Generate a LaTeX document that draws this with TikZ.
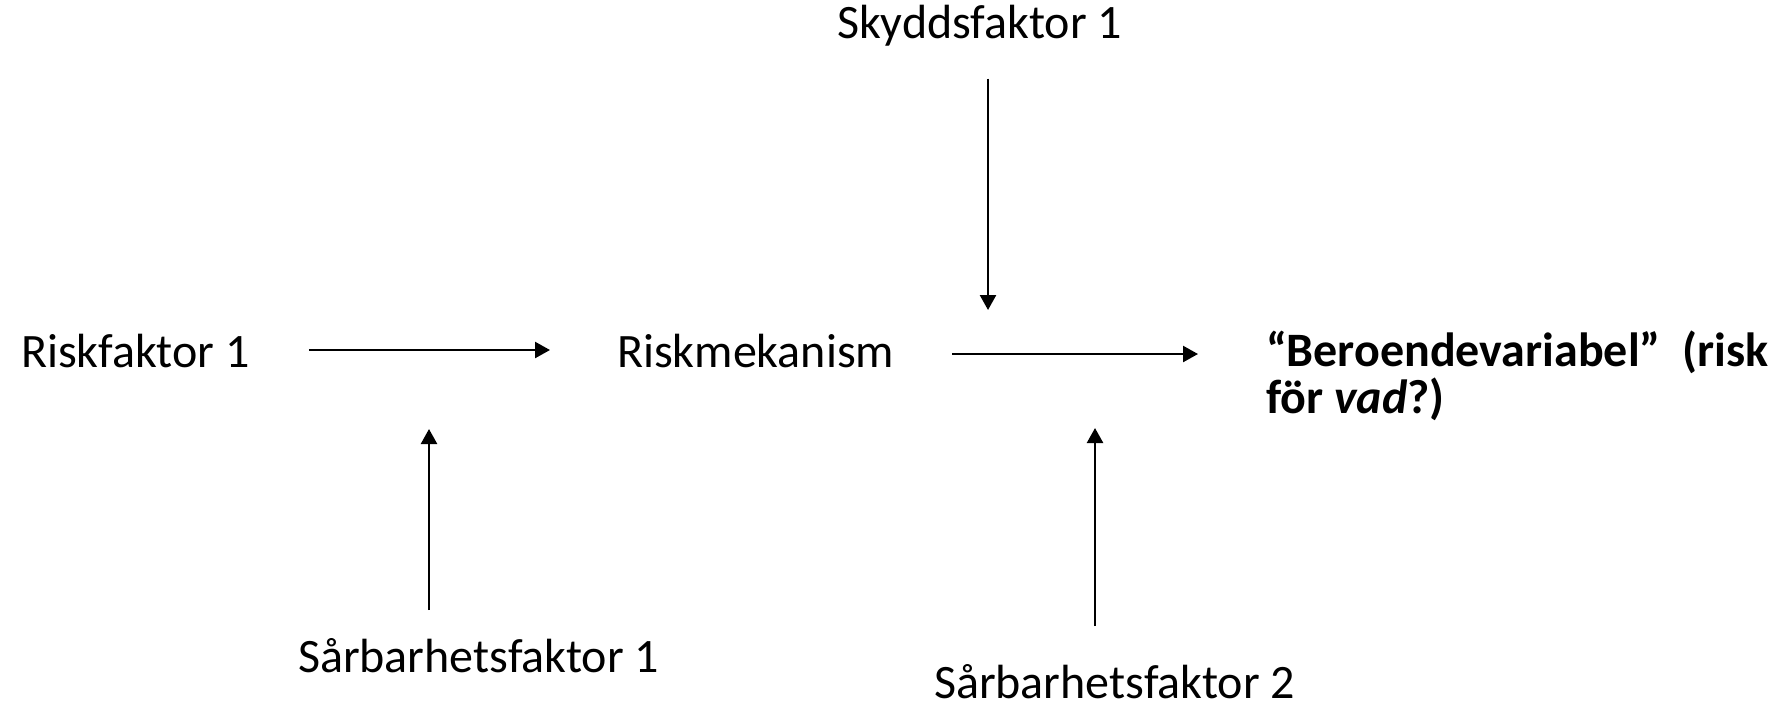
\documentclass[tikz,border=0pt]{standalone}
\usepackage{fontspec}
\setmainfont{Carlito}
\usetikzlibrary{arrows.meta}
\begin{document}
\begin{tikzpicture}[x=0.5pt, y=-0.5pt, font=\fontsize{24}{29}\selectfont,
  every node/.style={inner sep=0pt, outer sep=0pt, anchor=base west},
  arr/.style={-{Triangle[length=7.5pt, width=8pt]}, line width=1.2pt}]
        \useasboundingbox (0,0) rectangle (1781,708);
        % Labels
        \node (skydd) at (837, 38) {Skyddsfaktor 1};
        \node (risk1) at (21, 367) {Riskfaktor 1};
        \node (mech) at (617, 367) {Riskmekanism};
        \node (dep) at (1266, 366) {\fontsize{24}{19}\selectfont\bfseries
          \begin{tabular}[t]{@{}l@{}}“Beroendevariabel”\ \ (risk\\ för \textit{vad}?)\end{tabular}};
        \node (sarb1) at (298, 672) {Sårbarhetsfaktor 1};
        \node (sarb2) at (934, 698) {Sårbarhetsfaktor 2};

        % Points hit by the side arrows
        \coordinate (hitA) at (429, 429);
        \coordinate (hitB) at (988, 310);
        \coordinate (hitC) at (1095, 428);

        % Main chain
        \draw[arr, shorten <=29.5pt, shorten >=33.5pt] (risk1.east |- 0,350) -- (mech.west |- 0,350);
        \draw[arr, shorten <=29pt, shorten >=34pt] (mech.east |- 0,354) -- (dep.west |- 0,354);

        % Side factors
        \draw[arr, shorten <=16.5pt] (skydd.south -| hitB) -- (hitB);
        \draw[arr, shorten <=14pt] (sarb1.north -| hitA) -- (hitA);
        \draw[arr, shorten <=19pt] (sarb2.north -| hitC) -- (hitC);
\end{tikzpicture}
\end{document}
